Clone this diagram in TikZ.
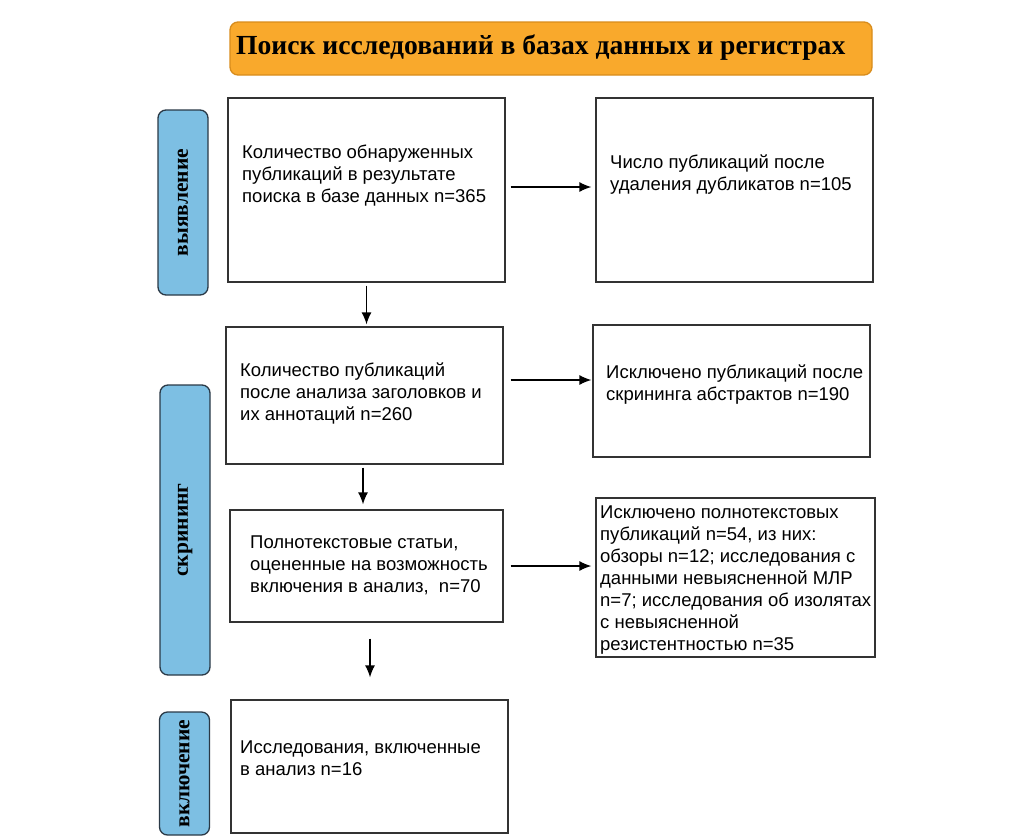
\documentclass[tikz,border=0pt]{standalone}
\usepackage{fontspec}
\setmainfont{Liberation Serif}
\setsansfont{Liberation Sans}
\usetikzlibrary{arrows.meta,positioning}
\definecolor{titlefill}{HTML}{F9A92C}
\definecolor{titleline}{HTML}{D88C1C}
\definecolor{sidefill}{HTML}{7DBFE3}
\definecolor{sideline}{HTML}{2A3946}

\begin{document}
\begin{tikzpicture}[x=1pt,y=-1pt,
	box/.style={draw=black!80, line width=1.3pt, fill=white},
	txt/.style={anchor=north west, inner sep=0pt, align=left, font=\sffamily\fontsize{18.5}{22}\selectfont},
	side/.style={draw=sideline, line width=1.3pt, fill=sidefill, rounded corners=8pt, rotate=90,
		minimum height=50, inner sep=0pt, font=\bfseries\fontsize{21.5}{24}\selectfont},
	arr/.style={-{Latex[length=12pt,width=10pt]}, line width=1.3pt}]

	\useasboundingbox (0,0) rectangle (1033,838);

	\node[draw=titleline, line width=1.3pt, fill=titlefill, rounded corners=8pt,
		minimum width=642, minimum height=53] (title) at (551,48.5) {};
	\node[anchor=west, inner sep=0pt, font=\bfseries\fontsize{27.6}{30}\selectfont] (titletext) at (236,48) {Поиск исследований в базах данных и регистрах};

	\node[side, minimum width=185] (ident) at (183,202.5) {выявление};
	\node[side, minimum width=290] (scr) at (185,530) {скрининг};
	\node[side, minimum width=123] (inc) at (184.5,773.5) {включение};

	\node[box, minimum width=277, minimum height=184] (found) at (366.5,190) {};
	\node[box, minimum width=277, minimum height=184] (dedup) at (734.5,190) {};
	\node[box, minimum width=277, minimum height=137] (screen) at (364.5,395.5) {};
	\node[box, minimum width=277, minimum height=132] (excl1) at (731.5,391) {};
	\node[box, minimum width=273, minimum height=112] (full) at (366.5,566) {};
	\node[box, minimum width=279, minimum height=159] (excl2) at (735.5,577.5) {};
	\node[box, minimum width=277, minimum height=133] (incl) at (369.5,766.5) {};

	\node[txt] (foundtext) at (242,145) {Количество обнаруженных\\публикаций в результате\\поиска в базе данных n=365};
	\node[txt] (deduptext) at (610,155) {Число публикаций после\\удаления дубликатов n=105};
	\node[txt] (screentext) at (240,363) {Количество публикаций\\после анализа заголовков и\\их аннотаций n=260};
	\node[txt] (excl1text) at (606,365) {Исключено публикаций после\\скрининга абстрактов n=190};
	\node[txt] (fulltext) at (250,536) {Полнотекстовые статьи,\\оцененные на возможность\\включения в анализ,\ \ n=70};
	\node[txt] (excl2text) at (600,506) {Исключено полнотекстовых\\публикаций n=54, из них:\\обзоры n=12; исследования с\\данными невыясненной МЛР\\n=7; исследования об изолятах\\с невыясненной\\резистентностью n=35};
	\node[txt] (incltext) at (240,741) {Исследования, включенные\\в анализ n=16};

	\draw[arr, shorten <=5pt, shorten >=4pt] ([yshift=3pt]found.east) -- ([yshift=3pt]found.east -| dedup.west);
	\draw[arr, shorten <=3pt, shorten >=2pt] (found.south) -- (found.south |- screen.north);
	\draw[arr, shorten <=7pt, shorten >=1pt] ([yshift=15.5pt]screen.east) -- ([yshift=15.5pt]screen.east -| excl1.west);
	\draw[arr, shorten <=3pt, shorten >=5pt] ([xshift=-1.5pt]screen.south) -- ([xshift=-1.5pt]screen.south |- full.north);
	\draw[arr, shorten <=7pt, shorten >=4pt] (full.east) -- (full.east -| excl2.west);
	\draw[arr, shorten <=16pt, shorten >=22pt] ([xshift=3.5pt]full.south) -- ([xshift=3.5pt]full.south |- incl.north);

\end{tikzpicture}
\end{document}
